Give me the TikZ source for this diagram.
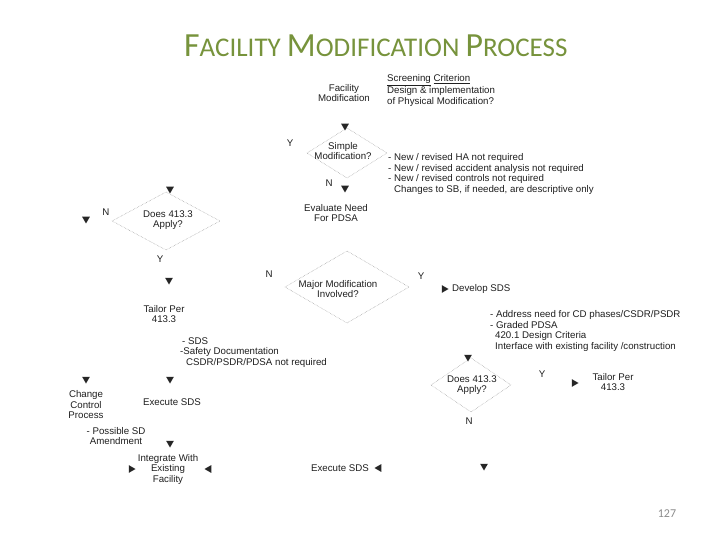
\documentclass[tikz,border=0pt]{standalone}
\usepackage{fontspec}
\setmainfont{Liberation Sans}
\newfontfamily\titlefont{Carlito}
\usetikzlibrary{shapes.geometric}
\definecolor{titlegreen}{HTML}{77933C}
\definecolor{pagegray}{HTML}{8C8C8C}
\begin{document}
\begin{tikzpicture}[x=1pt,y=-1pt,
  txt/.style={font=\fontsize{9.7}{10.5}\selectfont, text=black!88, inner sep=0pt, align=center},
  lst/.style={font=\fontsize{9.7}{10.5}\selectfont, text=black!88, inner sep=0pt, align=left, anchor=north west},
  lbl/.style={font=\fontsize{9.7}{10.5}\selectfont, text=black!88, inner sep=0pt},
  tri/.style={regular polygon, regular polygon sides=3, fill=black!85, draw=none, inner sep=0pt, minimum size=9pt},
  tridown/.style={tri, shape border rotate=180},
  triright/.style={tri, shape border rotate=-90},
  trileft/.style={tri, shape border rotate=90},
  dia/.style={draw=black!40, densely dotted, line width=0.5pt}
]
\fill[white] (0,0) rectangle (720,540);
\useasboundingbox (0,0) rectangle (720,540);

% title
\node[anchor=base west, inner sep=0pt, text=titlegreen, font=\titlefont\fontsize{27}{27}\selectfont] (title) at (184,57)
  {{\fontsize{33.8}{34}\selectfont F}ACILITY {\fontsize{33.8}{34}\selectfont M}ODIFICATION {\fontsize{33.8}{34}\selectfont P}ROCESS};
\node[text=pagegray, font=\titlefont\fontsize{12}{12}\selectfont, inner sep=0pt] (page) at (667,514) {127};

% diamonds (centres)
\coordinate (d1) at (347,153);
\coordinate (d2) at (166,221);
\coordinate (d3) at (347,287);
\coordinate (d4) at (471,385);
\draw[dia] (d1) ++(-40,0) -- ++(40,-25) -- ++(40,25) -- ++(-40,25) -- cycle;
\draw[dia] (d2) ++(-54,0) -- ++(54,-29) -- ++(54,29) -- ++(-54,29) -- cycle;
\draw[dia] (d3) ++(-62,0) -- ++(62,-36) -- ++(62,36) -- ++(-62,36) -- cycle;
\draw[dia] (d4) ++(-40,0) -- ++(40,-27) -- ++(40,27) -- ++(-40,27) -- cycle;

% texts
\node[txt] (fac) at (344,93) {Facility\\Modification};
\node[lst] (scr) at (387,74.5) {\underline{Screening} \underline{Criterion}\\Design \& implementation\\of Physical Modification?};
\node[txt] (simp) at (343,151) {Simple\\Modification?};
\node[lst] (simpl) at (388,153.5) {- New / revised HA not required\\- New / revised accident analysis not required\\- New / revised controls not required\\\hspace*{6pt}Changes to SB, if needed, are descriptive only};
\node[txt] (evn) at (336,213) {Evaluate Need\\For PDSA};
\node[txt] (does1) at (168,220) {Does 413.3\\Apply?};
\node[txt] (major) at (338,289) {Major Modification\\Involved?};
\node[lbl, anchor=west] (dev) at (452,289) {Develop SDS};
\node[txt] (tail1) at (164,314) {Tailor Per\\413.3};
\node[lst] (sdsl) at (180,337.5) {\hspace*{2pt}- SDS\\-Safety Documentation\\\hspace*{6pt}CSDR/PSDR/PDSA not required};
\node[lst] (majl) at (490,310.5) {- Address need for CD phases/CSDR/PSDR\\- Graded PDSA\\\hspace*{5pt}420.1 Design Criteria\\\hspace*{5pt}Interface with existing facility /construction};
\node[txt] (does2) at (472,385) {Does 413.3\\Apply?};
\node[txt] (tail2) at (613,382) {Tailor Per\\413.3};
\node[txt] (ccp) at (86,405) {Change\\Control\\Process};
\node[txt] (exe1) at (172,402) {Execute SDS};
\node[txt] (poss) at (116,436) {- Possible SD\\Amendment};
\node[txt] (integ) at (168,469) {Integrate With\\Existing\\Facility};
\node[txt] (exe2) at (340,468) {Execute SDS};

% Y / N labels
\node[lbl] (y1) at (290,143) {Y};
\node[lbl] (n1) at (329,183) {N};
\node[lbl] (n2) at (106,212) {N};
\node[lbl] (y2) at (160,259) {Y};
\node[lbl] (n3) at (269,274) {N};
\node[lbl] (y3) at (421,276) {Y};
\node[lbl] (y4) at (542,374) {Y};
\node[lbl] (n4) at (469,421) {N};

% arrow heads
\node[tridown] (a1) at (345,126) {};
\node[tridown] (a2) at (345,188) {};
\node[tridown] (a3) at (170,189) {};
\node[tridown] (a4) at (86,219) {};
\node[tridown] (a5) at (169,280) {};
\node[tridown] (a6) at (170,379) {};
\node[tridown] (a7) at (86,379) {};
\node[tridown] (a8) at (468,357) {};
\node[tridown] (a9) at (170,443) {};
\node[tridown] (a10) at (484,466) {};
\node[triright] (a11) at (444,289) {};
\node[triright] (a12) at (574,383) {};
\node[triright] (a13) at (131,469) {};
\node[trileft] (a14) at (209,469) {};
\node[trileft] (a15) at (379,468) {};
\end{tikzpicture}
\end{document}
